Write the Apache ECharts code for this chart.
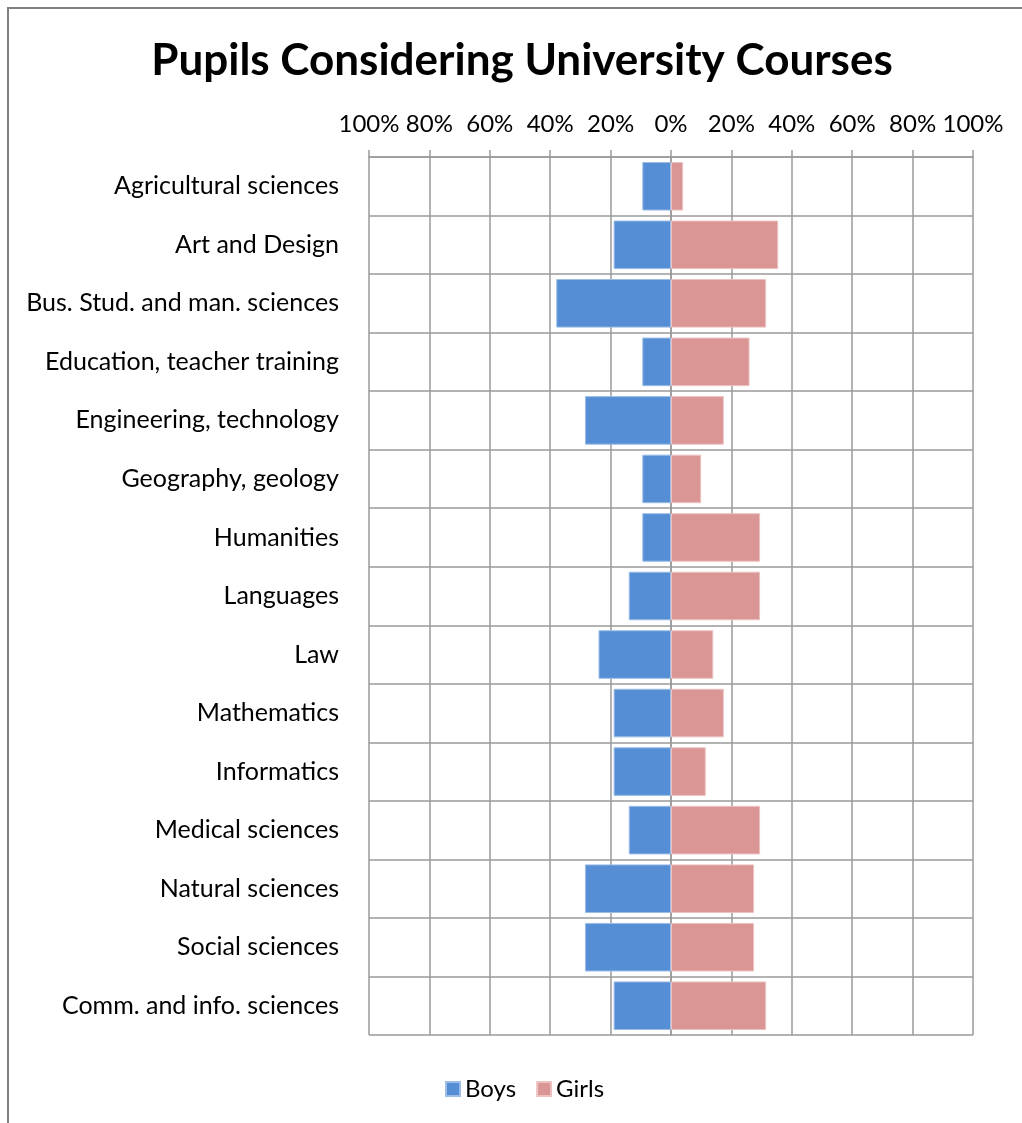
<!DOCTYPE html>
<html>
<head>
<meta charset="utf-8">
<script src="https://cdn.jsdelivr.net/npm/echarts@6/dist/echarts.min.js"></script>
<style>
  html, body { margin: 0; padding: 0; background: #fff; }
  #chart { width: 1022px; height: 1123px; }
</style>
</head>
<body>
<div id="chart"></div>
<script>
// Course categories, top to bottom
const courses = [
  'Agricultural sciences',
  'Art and Design',
  'Bus. Stud. and man. sciences',
  'Education, teacher training',
  'Engineering, technology',
  'Geography, geology',
  'Humanities',
  'Languages',
  'Law',
  'Mathematics',
  'Informatics',
  'Medical sciences',
  'Natural sciences',
  'Social sciences',
  'Comm. and info. sciences'
];

// Share of pupils (%) considering each course
const boys  = [9.5, 19, 38, 9.5, 28.5, 9.5, 9.5, 14, 24, 19, 19, 14, 28.5, 28.5, 19];
const girls = [4, 35.5, 31.5, 26, 17.5, 10, 29.5, 29.5, 14, 17.5, 11.5, 29.5, 27.5, 27.5, 31.5];

// Axis tick values (boys drawn to the left of zero)
const axisMin = -100;
const axisMax = 100;
const axisStep = 20;

const FONT = 'Lato';
const gridColor = '#9a9a9a';

const chart = echarts.init(document.getElementById('chart'), null, { renderer: 'canvas' });

chart.setOption({
  backgroundColor: '#ffffff',
  animation: false,
  title: {
    text: 'Pupils Considering University Courses',
    left: 517,
    textAlign: 'center',
    top: 34,
    textStyle: { fontFamily: FONT, fontWeight: 'bold', fontSize: 44, color: '#000' }
  },
  legend: {
    data: ['Boys', 'Girls'],
    left: 440,
    top: 1072,
    icon: 'rect',
    itemWidth: 14,
    itemHeight: 14,
    itemGap: 20,
    textStyle: { fontFamily: FONT, fontSize: 24, color: '#000' }
  },
  graphic: [{
    type: 'rect',
    shape: { x: 8, y: 8, width: 1100, height: 1200 },
    style: { fill: 'none', stroke: '#808080', lineWidth: 2 },
    silent: true
  }],
  grid: { left: 369, right: 49, top: 157, bottom: 88 },
  xAxis: {
    type: 'value',
    position: 'top',
    min: axisMin,
    max: axisMax,
    interval: axisStep,
    axisLine: { show: true, lineStyle: { color: gridColor, width: 1.5 } },
    axisTick: { show: true, length: 7, lineStyle: { color: gridColor, width: 1.5 } },
    splitLine: { show: true, lineStyle: { color: gridColor, width: 1.5 } },
    axisLabel: {
      margin: 21,
      fontFamily: FONT,
      fontSize: 24,
      color: '#000',
      formatter: v => Math.abs(v) + '%'
    }
  },
  yAxis: {
    type: 'category',
    inverse: true,
    data: courses,
    axisLine: { show: true, lineStyle: { color: gridColor, width: 1.5 } },
    axisTick: { show: false },
    splitLine: { show: true, lineStyle: { color: gridColor, width: 1.5 } },
    axisLabel: {
      margin: 30,
      fontFamily: FONT,
      fontSize: 25,
      color: '#000'
    }
  },
  series: [
    {
      name: 'Boys',
      type: 'bar',
      data: boys.map(v => -v),
      barGap: '-100%',
      barCategoryGap: '17%',
      itemStyle: { color: '#558ed5', borderColor: '#9dbde6', borderWidth: 1 }
    },
    {
      name: 'Girls',
      type: 'bar',
      data: girls,
      itemStyle: { color: '#d99694', borderColor: '#ecc3c2', borderWidth: 1 }
    }
  ]
});
</script>
</body>
</html>
